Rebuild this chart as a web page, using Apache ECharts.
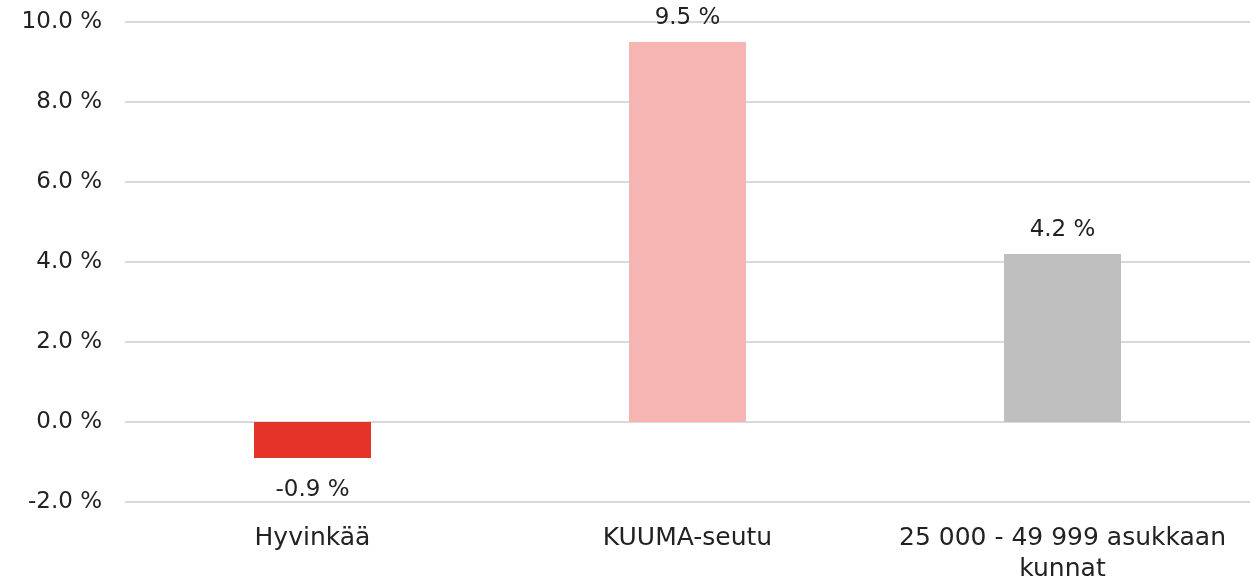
<!DOCTYPE html>
<html>
<head>
<meta charset="utf-8">
<script src="https://cdn.jsdelivr.net/npm/echarts@6/dist/echarts.min.js"></script>
<style>
  html, body { margin: 0; padding: 0; background: #fff; }
  #chart { width: 1259px; height: 587px; }
</style>
</head>
<body>
<div id="chart"></div>
<script>
// Chart data
const categories = ['Hyvinkää', 'KUUMA-seutu', '25 000 - 49 999 asukkaan\nkunnat'];
const values = [-0.9, 9.5, 4.2];
const barColors = ['#E6332A', '#F5B5B3', '#BFBFBF'];

const FONT = 'DejaVu Sans';
const TEXT = '#222';
const SIZE = 23;

const chart = echarts.init(document.getElementById('chart'));

const seriesData = values.map((v, i) => ({
    value: v,
    itemStyle: { color: barColors[i] },
    label: v < 0 ? { position: 'bottom', distance: 21 } : { position: 'top', distance: 12 }
}));

chart.setOption({
    animation: false,
    grid: { left: 125, right: 9, top: 22, bottom: 85 },
    xAxis: {
        type: 'category',
        data: categories,
        axisLine: { show: false },
        axisTick: { show: false },
        axisLabel: {
            color: TEXT,
            fontFamily: FONT,
            fontSize: 25,
            lineHeight: 31,
            margin: 21,
            interval: 0
        }
    },
    yAxis: {
        type: 'value',
        min: -2,
        max: 10,
        interval: 2,
        axisLine: { show: false },
        axisTick: { show: false },
        splitLine: { lineStyle: { color: '#D9D9D9', width: 2 } },
        axisLabel: {
            color: TEXT,
            fontFamily: FONT,
            fontSize: SIZE,
            margin: 23,
            formatter: v => v.toFixed(1) + ' %'
        }
    },
    series: [{
        type: 'bar',
        data: seriesData,
        barWidth: 117,
        label: {
            show: true,
            color: TEXT,
            fontFamily: FONT,
            fontSize: SIZE,
            formatter: p => p.value.toFixed(1) + ' %'
        }
    }]
});
</script>
</body>
</html>
